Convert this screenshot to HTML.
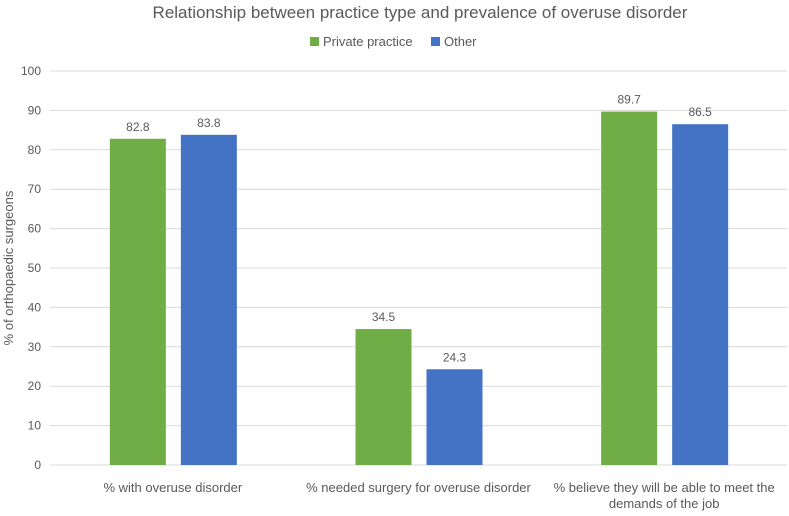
<!DOCTYPE html>
<html><head><meta charset="utf-8"><style>
body{margin:0;background:#fff;font-family:"Liberation Sans",sans-serif;}
text{font-family:"Liberation Sans",sans-serif;fill:#595959;}
</style></head><body>
<svg id="chart" width="789" height="511">
<text x="420" y="18" font-size="17" text-anchor="middle">Relationship between practice type and prevalence of overuse disorder</text>
<g>
<rect x="310" y="37" width="9" height="9" fill="#70ad47"/>
<text x="323" y="46" font-size="13">Private practice</text>
<rect x="431" y="37" width="9" height="9" fill="#4472c4"/>
<text x="444" y="46" font-size="13">Other</text>
</g>
<text transform="translate(13,268) rotate(-90)" font-size="13" text-anchor="middle">% of orthopaedic surgeons</text>
<g id="grid"></g><g id="bars"></g><g id="xl"></g>
</svg>
<script>
const categories=[["% with overuse disorder"],["% needed surgery for overuse disorder"],["% believe they will be able to meet the","demands of the job"]];
const privateVals=[82.8,34.5,89.7];
const otherVals=[83.8,24.3,86.5];
const yTicks=[0,10,20,30,40,50,60,70,80,90,100];
const NS="http://www.w3.org/2000/svg";
const x0=50,x1=787,y0=465,y1=71;
const y=v=>y0-(v/100)*(y0-y1);
const cw=(x1-x0)/categories.length;
const cx=i=>x0+cw*(i+0.5);
function mk(t,a,p){const e=document.createElementNS(NS,t);for(const k in a)e.setAttribute(k,a[k]);p.appendChild(e);return e;}
const g=document.getElementById('grid');
yTicks.forEach(t=>{
 const l=mk('line',{x1:x0,x2:x1,y1:y(t),y2:y(t),stroke:'#d9d9d9','stroke-width':1},g);
 
 
 const tx=mk('text',{x:41,y:y(t)+4,'font-size':12,'text-anchor':'end'},g);tx.textContent=t;
 
 
});
const b=document.getElementById('bars');
function bar(i,v,off,col,n){
 const r=mk('rect',{x:cx(i)+off,y:y(v),width:56,height:y0-y(v),fill:col},b);
 
 
 const t=mk('text',{x:cx(i)+off+28,y:y(v)-8,'font-size':12,'text-anchor':'middle'},b);t.textContent=v.toFixed(1);
 
 
}
categories.forEach((c,i)=>{
 bar(i,privateVals[i],-63,'#70ad47','private');
 bar(i,otherVals[i],8,'#4472c4','other');
 const xl=document.getElementById('xl');
 c.forEach((line,j)=>{
  const t=mk('text',{x:cx(i),y:492+j*16,'font-size':13,'text-anchor':'middle'},xl);t.textContent=line;
  
  
 });
});
</script>
</body></html>
